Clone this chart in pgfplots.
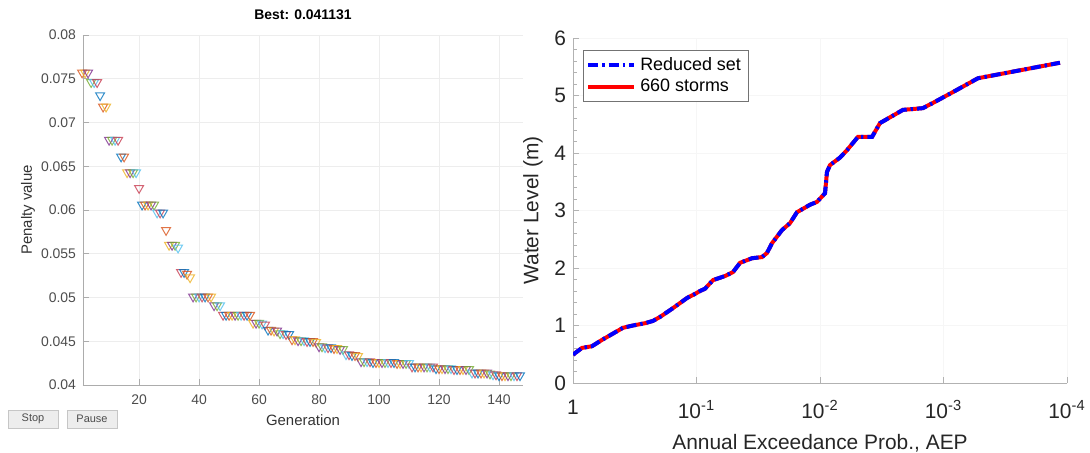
\documentclass[border=0pt]{standalone}
\usepackage{pgfplots}
\pgfplotsset{compat=1.18}
\usepackage{fontspec}
\setmainfont{Liberation Sans}
\definecolor{ca}{RGB}{0,114,189}
\definecolor{cb}{RGB}{217,83,25}
\definecolor{cc}{RGB}{237,177,32}
\definecolor{cd}{RGB}{126,47,142}
\definecolor{ce}{RGB}{119,172,48}
\definecolor{cf}{RGB}{77,190,238}
\definecolor{cg}{RGB}{200,60,80}
\begin{document}
\begin{tikzpicture}
\path[use as bounding box] (0,0) rectangle (545bp,226.5bp);
% ---------------- left panel ----------------
\begin{axis}[
  at={(41.5bp,34bp)}, anchor=south west,
  width=220bp, height=175bp, scale only axis,
  xmin=1.3, xmax=148, ymin=0.04, ymax=0.08,
  scaled y ticks=false, scaled x ticks=false,
  axis x line*=bottom, axis y line*=left,
  axis line style={-, gray!65, line width=0.5pt},
  xtick={20,40,60,80,100,120,140},
  ytick={0.04,0.045,0.05,0.055,0.06,0.065,0.07,0.075,0.08},
  yticklabels={0.04,0.045,0.05,0.055,0.06,0.065,0.07,0.075,0.08},
  tick label style={font=\fontsize{7}{8}\selectfont, text=black!70},
  xticklabel style={yshift=-1.5bp},
  /pgf/number format/assume math mode=true,
  grid=major, grid style={gray!14, line width=0.4pt},
  major tick length=3bp, tick style={gray!65, line width=0.4pt},
  xlabel={Generation},
  xlabel style={at={(axis description cs:0.5,-0.1)}, anchor=center, font=\fontsize{7.5}{9}\selectfont, text=black!80},
  ylabel={Penalty value},
  ylabel style={at={(axis description cs:-0.125,0.5)}, anchor=center, font=\fontsize{7.5}{9}\selectfont, text=black!80},
  clip=false
]
\addplot[scatter, only marks, mark=triangle, mark size=2.6bp,
  mark options={rotate=180, line width=0.5bp, fill opacity=0, draw opacity=0.8},
  point meta=explicit symbolic,
  scatter/classes={a={ca},b={cb},c={cc},d={cd},e={ce},f={cf},g={cg}}]
  table[meta=c, row sep=\\] {
x y c\\
1 0.0757 b\\ 2 0.0757 c\\ 3 0.0757 d\\ 4 0.0746 e\\ 5 0.0746 f\\ 6 0.0746 g\\ 7 0.0731 a\\
8 0.0718 b\\ 9 0.0718 c\\ 10 0.0680 d\\ 11 0.0680 e\\ 12 0.0680 f\\ 13 0.0680 g\\ 14 0.0661 a\\
15 0.0661 b\\ 16 0.0643 c\\ 17 0.0643 d\\ 18 0.0643 e\\ 19 0.0643 f\\ 20 0.0625 g\\ 21 0.0606 a\\
22 0.0606 b\\ 23 0.0606 c\\ 24 0.0606 d\\ 25 0.0606 e\\ 26 0.0597 f\\ 27 0.0597 g\\ 28 0.0597 a\\
29 0.0577 b\\ 30 0.0560 c\\ 31 0.0560 d\\ 32 0.0560 e\\ 33 0.0557 f\\ 34 0.0529 g\\ 35 0.0529 a\\
36 0.0527 b\\ 37 0.0523 c\\ 38 0.0501 d\\ 39 0.0501 e\\ 40 0.0501 f\\ 41 0.0501 g\\ 42 0.0501 a\\
43 0.0501 b\\ 44 0.0501 c\\ 45 0.0491 d\\ 46 0.0491 e\\ 47 0.0491 f\\ 48 0.0480 g\\ 49 0.0480 a\\
50 0.0480 b\\ 51 0.0480 c\\ 52 0.0480 d\\ 53 0.0480 e\\ 54 0.0480 f\\ 55 0.0480 g\\ 56 0.0480 a\\
57 0.0480 b\\ 58 0.0471 c\\ 59 0.0471 d\\ 60 0.0471 e\\ 61 0.0470 f\\ 62 0.0469 g\\ 63 0.0463 a\\
64 0.0463 b\\ 65 0.0462 c\\ 66 0.0462 d\\ 67 0.0459 e\\ 68 0.0459 f\\ 69 0.0458 g\\ 70 0.0458 a\\
71 0.0452 b\\ 72 0.0452 c\\ 73 0.0451 d\\ 74 0.0451 e\\ 75 0.0451 f\\ 76 0.0450 g\\ 77 0.0450 a\\
78 0.0450 b\\ 79 0.0449 c\\ 80 0.0444 d\\ 81 0.0444 e\\ 82 0.0443 f\\ 83 0.0443 g\\ 84 0.0443 a\\
85 0.0442 b\\ 86 0.0442 c\\ 87 0.0441 d\\ 88 0.0441 e\\ 89 0.0435 f\\ 90 0.0435 g\\ 91 0.0434 a\\
92 0.0434 b\\ 93 0.0433 c\\ 94 0.0427 d\\ 95 0.0427 e\\ 96 0.0427 f\\ 97 0.0427 g\\ 98 0.0426 a\\
99 0.0426 b\\ 100 0.0426 c\\ 101 0.0426 d\\ 102 0.0426 e\\ 103 0.0426 f\\ 104 0.0426 g\\ 105 0.0426 a\\
106 0.0425 b\\ 107 0.0425 c\\ 108 0.0425 d\\ 109 0.0425 e\\ 110 0.0425 f\\ 111 0.0421 g\\ 112 0.0421 a\\
113 0.0421 b\\ 114 0.0421 c\\ 115 0.0421 d\\ 116 0.0421 e\\ 117 0.0421 f\\ 118 0.0421 g\\ 119 0.0419 a\\
120 0.0419 b\\ 121 0.0419 c\\ 122 0.0419 d\\ 123 0.0419 e\\ 124 0.0419 f\\ 125 0.0418 g\\ 126 0.0418 a\\
127 0.0418 b\\ 128 0.0418 c\\ 129 0.0418 d\\ 130 0.0418 e\\ 131 0.0414 f\\ 132 0.0414 g\\ 133 0.0414 a\\
134 0.0414 b\\ 135 0.0414 c\\ 136 0.0414 d\\ 137 0.0413 e\\ 138 0.0412 f\\ 139 0.0412 g\\ 140 0.0411 a\\
141 0.0411 b\\ 142 0.0411 c\\ 143 0.0411 d\\ 144 0.0411 e\\ 145 0.0411 f\\ 146 0.0411 g\\ 147 0.0411 a\\
};
\node[font=\fontsize{7}{8}\selectfont\bfseries, anchor=center] at (axis description cs:0.5,1.057) {Best: 0.041131};
\end{axis}
% buttons (GUI decoration)
\node[draw=gray!45, fill=gray!14, minimum width=25bp, minimum height=9bp, inner sep=0pt,
  font=\fontsize{5.5}{6}\selectfont, text=black!70] at (16.5bp,17bp) {Stop};
\node[draw=gray!45, fill=gray!14, minimum width=25bp, minimum height=9bp, inner sep=0pt,
  font=\fontsize{5.5}{6}\selectfont, text=black!70] at (46bp,17bp) {Pause};
% ---------------- right panel ----------------
\begin{axis}[
  at={(286.5bp,35bp)}, anchor=south west,
  width=247bp, height=172.5bp, scale only axis,
  xmode=log, x dir=reverse, xmin=1e-4, xmax=1, ymin=0, ymax=6,
  axis x line*=bottom, axis y line*=left,
  axis line style={-, gray!60, line width=0.5pt},
  xtick={1,0.1,0.01,0.001,0.0001},
  xticklabels={1,10\textsuperscript{-1},10\textsuperscript{-2},10\textsuperscript{-3},10\textsuperscript{-4}},
  ytick={0,1,2,3,4,5,6}, yticklabels={0,1,2,3,4,5,6},
  minor y tick num=4,
  tick label style={font=\fontsize{10.5}{12}\selectfont, text=black!85},
  xticklabel style={yshift=-5bp},
  major tick length=3bp, minor tick length=1.8bp, tick style={gray!60, line width=0.4pt},
  grid=major, grid style={gray!7, line width=0.4pt},
  xlabel={Annual Exceedance Prob., AEP},
  xlabel style={at={(axis description cs:0.5,-0.175)}, anchor=center, font=\fontsize{10.5}{12}\selectfont, text=black!85},
  ylabel={Water Level (m)},
  ylabel style={at={(axis description cs:-0.081,0.5)}, anchor=center, font=\fontsize{10.5}{12}\selectfont, text=black!85},
  legend style={at={(0.02,0.965)}, anchor=north west, font=\fontsize{9}{10}\selectfont,
    draw=black!55, line width=0.4pt, inner sep=1.5pt, row sep=-1pt, cells={anchor=west}},
  legend image code/.code={\draw[#1] (0bp,0bp) -- (23bp,0bp);},
  reverse legend
]
\addplot[red, line width=2bp] table[row sep=\\] {
x y\\
1 0.49\\ 0.963 0.52\\ 0.846 0.61\\ 0.702 0.64\\ 0.582 0.75\\ 0.530 0.80\\ 0.394 0.96\\ 0.327 1.00\\
0.261 1.04\\ 0.225 1.08\\ 0.197 1.15\\ 0.158 1.29\\ 0.119 1.48\\ 0.1028 1.55\\ 0.0937 1.60\\ 0.0853 1.64\\
0.0735 1.79\\ 0.0588 1.86\\ 0.0506 1.93\\ 0.0444 2.09\\ 0.0355 2.17\\ 0.0295 2.19\\ 0.0269 2.26\\ 0.0245 2.43\\
0.0203 2.66\\ 0.0175 2.78\\ 0.01536 2.97\\ 0.01205 3.10\\ 0.01057 3.15\\ 0.00911 3.30\\ 0.00878 3.67\\ 0.00830 3.79\\
0.00689 3.92\\ 0.00604 4.05\\ 0.00493 4.28\\ 0.00379 4.28\\ 0.00327 4.52\\ 0.00213 4.75\\ 0.00147 4.78\\ 0.00122 4.87\\
0.000838 5.06\\ 0.000526 5.30\\ 0.000114 5.57\\
};
\addlegendentry{660 storms}
\addplot[blue, line width=2bp, dash pattern=on 5bp off 2bp on 1.2bp off 2bp] table[row sep=\\] {
x y\\
1 0.49\\ 0.963 0.52\\ 0.846 0.61\\ 0.702 0.64\\ 0.582 0.75\\ 0.530 0.80\\ 0.394 0.96\\ 0.327 1.00\\
0.261 1.04\\ 0.225 1.08\\ 0.197 1.15\\ 0.158 1.29\\ 0.119 1.48\\ 0.1028 1.55\\ 0.0937 1.60\\ 0.0853 1.64\\
0.0735 1.79\\ 0.0588 1.86\\ 0.0506 1.93\\ 0.0444 2.09\\ 0.0355 2.17\\ 0.0295 2.19\\ 0.0269 2.26\\ 0.0245 2.43\\
0.0203 2.66\\ 0.0175 2.78\\ 0.01536 2.97\\ 0.01205 3.10\\ 0.01057 3.15\\ 0.00911 3.30\\ 0.00878 3.67\\ 0.00830 3.79\\
0.00689 3.92\\ 0.00604 4.05\\ 0.00493 4.28\\ 0.00379 4.28\\ 0.00327 4.52\\ 0.00213 4.75\\ 0.00147 4.78\\ 0.00122 4.87\\
0.000838 5.06\\ 0.000526 5.30\\ 0.000114 5.57\\
};
\addlegendentry{Reduced set}
\end{axis}
\end{tikzpicture}
\end{document}
